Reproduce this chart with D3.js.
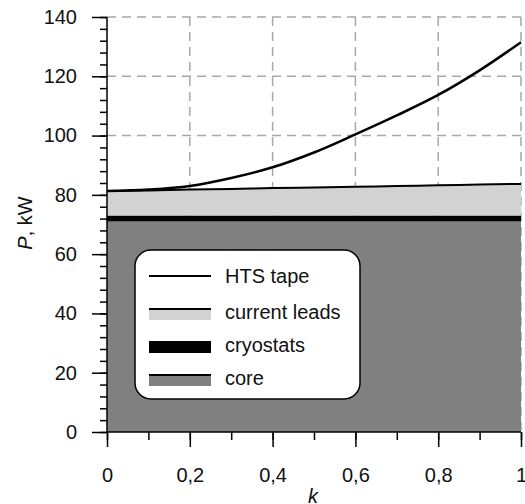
<!DOCTYPE html>
<html>
<head>
<meta charset="utf-8">
<script src="https://cdn.jsdelivr.net/npm/d3@7"></script>
<style>
  body { margin: 0; background: #fff; }
  text { font-family: "Liberation Sans", Arial, sans-serif; }
</style>
</head>
<body>
<div id="chart"></div>
<script>
// k values along the x axis
const kVals = [0, 0.1, 0.2, 0.3, 0.4, 0.5, 0.6, 0.7, 0.8, 0.9, 1];
// cumulative power levels (top of each layer), kW
const coreTop = [71, 71, 71, 71, 71, 71, 71, 71, 71, 71, 71];
const cryoTop = [73, 73, 73, 73, 73, 73, 73, 73, 73, 73, 73];
const leadsTop = [81.3, 81.5, 81.8, 82.0, 82.3, 82.5, 82.7, 83.0, 83.2, 83.5, 83.7];
const htsTop = [81.3, 81.8, 83.0, 85.7, 89.3, 94.3, 100.4, 106.8, 113.7, 122.0, 131.5];

const xTicks = [0, 0.2, 0.4, 0.6, 0.8, 1];
const yTicks = [0, 20, 40, 60, 80, 100, 120, 140];
const legendNames = ["HTS tape", "current leads", "cryostats", "core"];

const W = 525, H = 504;
const margin = {top: 17, right: 4, bottom: 72, left: 107};
const width = W - margin.left - margin.right,
      height = H - margin.top - margin.bottom;

const svg = d3.select("#chart").append("svg")
    .attr("width", W).attr("height", H);
const g = svg.append("g")
    .attr("transform", `translate(${margin.left},${margin.top})`);

const x = d3.scaleLinear().domain([0, 1]).range([0, width]);
const y = d3.scaleLinear().domain([0, 140]).range([height, 0]);

// dashed grid
g.append("g").selectAll("line").data(xTicks.slice(1)).join("line")
    .attr("x1", d => x(d)).attr("x2", d => x(d))
    .attr("y1", 0).attr("y2", height)
    .attr("stroke", "#a8a8a8").attr("stroke-width", 1.5).attr("stroke-dasharray", "9,6");
g.append("g").selectAll("line").data(yTicks.slice(1)).join("line")
    .attr("x1", 0).attr("x2", width)
    .attr("y1", d => y(d)).attr("y2", d => y(d))
    .attr("stroke", "#a8a8a8").attr("stroke-width", 1.5).attr("stroke-dasharray", "9,6");

const idx = d3.range(kVals.length);
const band = (lo, hi) => d3.area()
    .x(i => x(kVals[i]))
    .y0(i => lo ? y(lo[i]) : y(0))
    .y1(i => y(hi[i]));

g.append("path").attr("d", band(null, coreTop)(idx)).attr("fill", "#808080");
g.append("path").attr("d", band(coreTop, cryoTop)(idx)).attr("fill", "#000");
g.append("path").attr("d", band(cryoTop, leadsTop)(idx)).attr("fill", "#d2d2d2");

const line = arr => d3.line().x(i => x(kVals[i])).y(i => y(arr[i])).curve(d3.curveMonotoneX);
g.append("path").attr("d", line(leadsTop)(idx))
    .attr("fill", "none").attr("stroke", "#000").attr("stroke-width", 2);
g.append("path").attr("d", line(htsTop)(idx))
    .attr("fill", "none").attr("stroke", "#000").attr("stroke-width", 2.5);

// axes
const fmtK = d => String(d).replace(".", ",");
const styleAxis = sel => {
  sel.selectAll("line").attr("stroke", "#000").attr("stroke-width", 1.5);
  sel.selectAll("text").attr("font-size", 20).attr("fill", "#111")
     .attr("font-family", "Liberation Sans, Arial, sans-serif");
  sel.select(".domain").remove();
};
g.append("g")
    .call(d3.axisLeft(y).tickValues(d3.range(0, 141, 4)).tickSize(7).tickFormat(""))
    .call(styleAxis);
g.append("g")
    .call(d3.axisLeft(y).tickValues(yTicks).tickSize(15).tickPadding(15))
    .call(styleAxis);
g.append("g").attr("transform", `translate(0,${height})`)
    .call(d3.axisBottom(x).tickValues(d3.range(0, 11).map(d => d / 10)).tickSize(8).tickFormat(""))
    .call(styleAxis);
g.append("g").attr("transform", `translate(0,${height})`)
    .call(d3.axisBottom(x).tickValues(xTicks).tickSize(15).tickPadding(21).tickFormat(fmtK))
    .call(styleAxis);
g.append("line").attr("x1", 0).attr("x2", 0).attr("y1", 0).attr("y2", height)
    .attr("stroke", "#000").attr("stroke-width", 1.5);
g.append("line").attr("x1", 0).attr("x2", width).attr("y1", height).attr("y2", height)
    .attr("stroke", "#000").attr("stroke-width", 1.5);

// axis titles
svg.append("text")
    .attr("transform", "translate(32,223) rotate(-90)")
    .attr("text-anchor", "middle").attr("font-size", 20).attr("fill", "#111")
    .html('<tspan font-style="italic">P</tspan>, kW');
svg.append("text")
    .attr("x", 313).attr("y", 503)
    .attr("text-anchor", "middle").attr("font-size", 20).attr("font-style", "italic").attr("fill", "#111")
    .text("k");

// legend
const leg = svg.append("g");
leg.append("rect").attr("x", 135).attr("y", 250).attr("width", 225).attr("height", 149)
    .attr("rx", 16).attr("fill", "#fff").attr("stroke", "#000").attr("stroke-width", 1.5);
const rowY = [276, 309, 342, 375];
const sw = leg.selectAll("g.row").data(legendNames).join("g").attr("class", "row")
    .attr("transform", (d, i) => `translate(0,${rowY[i]})`);
sw.each(function(d, i) {
  const s = d3.select(this);
  if (i === 1 || i === 3) {
    s.append("rect").attr("x", 149).attr("y", 1).attr("width", 62).attr("height", 10)
        .attr("fill", i === 1 ? "#d2d2d2" : "#808080");
  }
  if (i === 2) {
    s.append("rect").attr("x", 149).attr("y", -1).attr("width", 62).attr("height", 12).attr("fill", "#000");
  } else {
    s.append("line").attr("x1", 149).attr("x2", 211).attr("y1", 0).attr("y2", 0)
        .attr("stroke", "#000").attr("stroke-width", 2);
  }
  s.append("text").attr("x", 225).attr("y", i === 0 ? 0 : 3).attr("dy", "0.35em")
      .attr("font-size", 20).attr("fill", "#111").text(d);
});
</script>
</body>
</html>
